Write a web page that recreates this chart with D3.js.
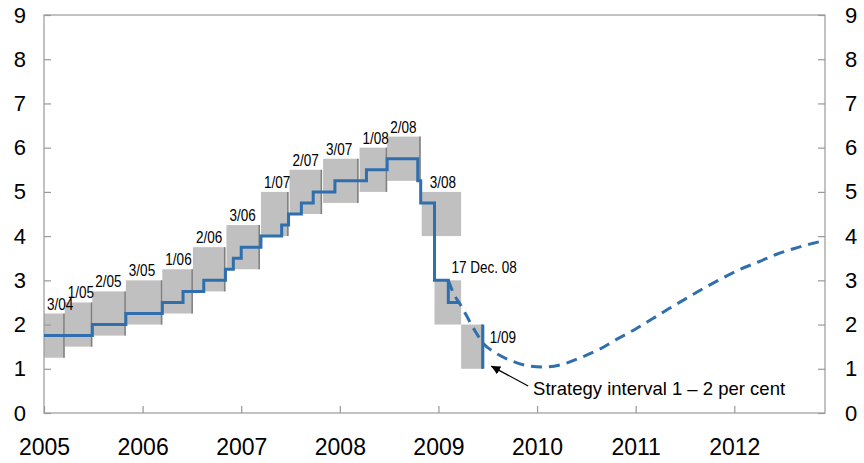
<!doctype html>
<html>
<head>
<meta charset="utf-8">
<title>Key policy rate and strategy intervals</title>
<script src="https://d3js.org/d3.v7.min.js"></script>
<style>
  body { margin:0; background:#fff; }
  text { font-family: "Liberation Sans", Arial, sans-serif; fill:#000; }
</style>
</head>
<body>
<svg id="chart" width="864" height="463"></svg>
<script>
// key policy rate, change dates (decimal year) and new level
var rateDates  = [2005.0, 2005.49, 2005.83, 2006.2, 2006.41, 2006.62, 2006.84, 2006.92, 2007.0,
                  2007.2, 2007.41, 2007.48, 2007.61, 2007.73, 2007.95, 2008.27, 2008.48,
                  2008.79, 2008.82, 2008.96, 2009.10, 2009.22];
var rateValues = [1.75, 2.0, 2.25, 2.5, 2.75, 3.0, 3.25, 3.5, 3.75,
                  4.0, 4.25, 4.5, 4.75, 5.0, 5.25, 5.5, 5.75,
                  5.25, 4.75, 3.0, 2.5, 2.5];

// projected path (dashed)
var fcDates  = [2009.10, 2009.16, 2009.22, 2009.27, 2009.37, 2009.46, 2009.58, 2009.74, 2009.93,
                2010.08, 2010.27, 2010.45, 2010.64, 2010.81, 2011.0, 2011.17, 2011.33,
                2011.52, 2011.69, 2011.88, 2012.06, 2012.25, 2012.43, 2012.64, 2012.80, 2012.92];
var fcValues = [3.0, 2.67, 2.46, 2.26, 1.86, 1.56, 1.36, 1.18, 1.06,
                1.04, 1.11, 1.26, 1.45, 1.67, 1.9, 2.13, 2.35,
                2.6, 2.82, 3.05, 3.25, 3.42, 3.59, 3.74, 3.84, 3.9];

// strategy intervals from each report
var boxLabels = ["3/04", "1/05", "2/05", "3/05", "1/06", "2/06", "3/06", "1/07", "2/07",
                 "3/07", "1/08", "2/08", "3/08", "17 Dec. 08", "1/09"];
var boxStart  = [2005.0, 2005.21, 2005.49, 2005.83, 2006.2, 2006.51, 2006.85, 2007.2, 2007.49,
                 2007.83, 2008.2, 2008.48, 2008.83, 2008.96, 2009.23];
var boxEnd    = [2005.21, 2005.49, 2005.83, 2006.2, 2006.51, 2006.84, 2007.19, 2007.48, 2007.82,
                 2008.19, 2008.48, 2008.82, 2009.23, 2009.23, 2009.45];
var boxLow    = [1.25, 1.5, 1.75, 2.0, 2.25, 2.75, 3.25, 4.0, 4.5,
                 4.75, 5.0, 5.25, 4.0, 2.0, 1.0];
var boxHigh   = [2.25, 2.5, 2.75, 3.0, 3.25, 3.75, 4.25, 5.0, 5.5,
                 5.75, 6.0, 6.25, 5.0, 3.0, 2.0];

var strategyYear = 2009.45;
var strategyRange = [1.0, 2.0];

var yearTicks = [2005, 2006, 2007, 2008, 2009, 2010, 2011, 2012];
var rateTicks = [0, 1, 2, 3, 4, 5, 6, 7, 8, 9];

var blue = "#2f6fad", grey = "#999";

var svg = d3.select("#chart");
var x = d3.scaleLinear().domain([2005, 2012.92]).range([44, 825]);
var y = d3.scaleLinear().domain([0, 9]).range([413, 15]);

// boxes
var boxes = svg.append("g");
boxLabels.forEach(function(lab, i) {
  boxes.append("rect")
    .attr("x", x(boxStart[i])).attr("y", y(boxHigh[i]))
    .attr("width", x(boxEnd[i]) - x(boxStart[i]))
    .attr("height", y(boxLow[i]) - y(boxHigh[i]))
    .attr("fill", "#c0c0c0");
});
boxLabels.forEach(function(lab, i) {
  if (i == 12 || i == 13) return; // overlapping boxes, no edge
  boxes.append("line")
    .attr("x1", x(boxEnd[i]) - 0.75).attr("x2", x(boxEnd[i]) - 0.75)
    .attr("y1", y(boxHigh[i])).attr("y2", y(boxLow[i]))
    .attr("stroke", "#7f7f7f").attr("stroke-width", 1.5);
});

// box labels (narrow type)
boxLabels.forEach(function(lab, i) {
  var tx, ty;
  if (i == 14) {        // 1/09 sits to the right
    tx = x(boxEnd[i]) + 7; ty = (y(boxLow[i]) + y(boxHigh[i])) / 2 - 4;
  } else if (i == 13) { // 17 Dec. 08
    tx = x(boxStart[i]) + 17; ty = y(boxHigh[i]) - 7;
  } else {
    tx = x(boxStart[i]) + 3; ty = y(boxHigh[i]) - 4;
    if (i == 12) tx = x(boxStart[i]) + 8;
  }
  svg.append("g").attr("transform", "translate(" + tx + "," + ty + ") scale(0.82,1)")
    .append("text").attr("font-size", "16.5px").text(lab);
});

// frame
svg.append("rect").attr("x", 44).attr("y", 15).attr("width", 781).attr("height", 398)
  .attr("fill", "none").attr("stroke", grey).attr("stroke-width", 1.2);

// axes
function styleAxis(g) {
  g.select(".domain").remove();
  g.selectAll(".tick line").attr("stroke", grey).attr("stroke-width", 1.2);
  g.selectAll(".tick text").attr("fill", "#000")
    .style("font-family", '"Liberation Sans", Arial, sans-serif');
}
svg.append("g").attr("transform", "translate(44,0)")
  .call(d3.axisLeft(y).tickValues(rateTicks).tickSize(-7).tickPadding(18))
  .attr("font-size", 22).call(styleAxis);
svg.append("g").attr("transform", "translate(825,0)")
  .call(d3.axisRight(y).tickValues(rateTicks).tickSize(-7).tickPadding(20))
  .attr("font-size", 22).call(styleAxis);
svg.append("g").attr("transform", "translate(0,413)")
  .call(d3.axisBottom(x).tickValues(yearTicks).tickFormat(d3.format("d")).tickSize(-7).tickPadding(26))
  .attr("font-size", 23).call(styleAxis);

// policy rate step line
var rateData = rateDates.map(function(d, i) { return [d, rateValues[i]]; });
svg.append("path").datum(rateData)
  .attr("d", d3.line().x(function(d) { return x(d[0]); }).y(function(d) { return y(d[1]); })
    .curve(d3.curveStepAfter))
  .attr("fill", "none").attr("stroke", blue).attr("stroke-width", 3);

// projection, dashed
var fcData = fcDates.map(function(d, i) { return [d, fcValues[i]]; });
svg.append("path").datum(fcData)
  .attr("d", d3.line().x(function(d) { return x(d[0]); }).y(function(d) { return y(d[1]); })
    .curve(d3.curveMonotoneX))
  .attr("fill", "none").attr("stroke", blue).attr("stroke-width", 3)
  .attr("stroke-dasharray", "11,7");

// strategy interval marker
svg.append("line")
  .attr("x1", x(strategyYear)).attr("x2", x(strategyYear))
  .attr("y1", y(strategyRange[0])).attr("y2", y(strategyRange[1]))
  .attr("stroke", blue).attr("stroke-width", 3);

// annotation with arrow
svg.append("defs").append("marker")
  .attr("id", "arrow").attr("viewBox", "0 0 10 10").attr("refX", 10).attr("refY", 5)
  .attr("markerWidth", 9).attr("markerHeight", 9).attr("markerUnits", "userSpaceOnUse")
  .attr("orient", "auto")
  .append("path").attr("d", "M0,0L10,5L0,10z").attr("fill", "#000");
svg.append("line")
  .attr("x1", x(2009.91)).attr("y1", y(0.61))
  .attr("x2", x(2009.535)).attr("y2", y(1.06))
  .attr("stroke", "#000").attr("stroke-width", 1.2).attr("marker-end", "url(#arrow)");
svg.append("text").attr("x", x(2009.96)).attr("y", y(0.41))
  .attr("font-size", "18.5px").text("Strategy interval 1 \u2013 2 per cent");
</script>
</body>
</html>
